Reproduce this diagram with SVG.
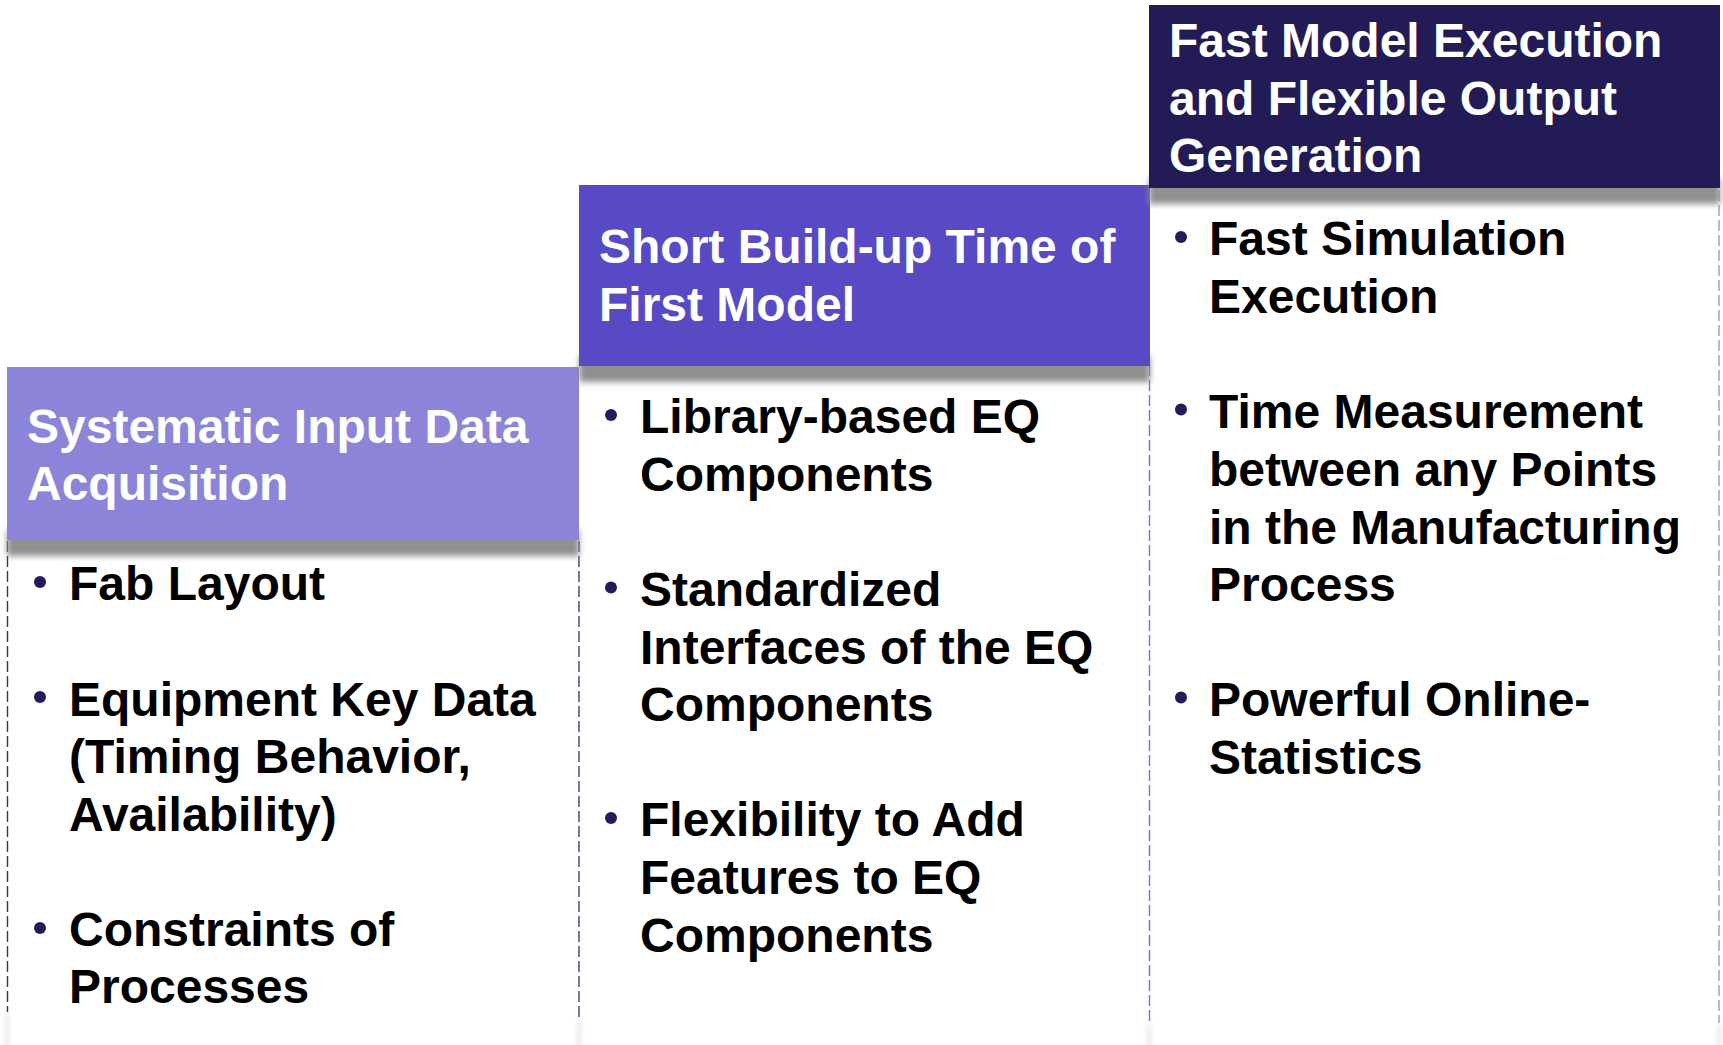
<svg xmlns="http://www.w3.org/2000/svg" width="1723" height="1045" viewBox="0 0 1723 1045">
<defs>
<style>
.t{font-family:"Liberation Sans",Arial,Helvetica,sans-serif;font-weight:bold;font-size:48px}
.h{fill:#ffffff}
.b{fill:#000000}
.dot{fill:#231c5c}
.shadow{fill:#8f8f8f;filter:url(#blur)}
.dash{fill:none;stroke-width:1.4;stroke-dasharray:11 4}
</style>
<filter id="blur" x="-5%" y="-50%" width="110%" height="200%"><feGaussianBlur stdDeviation="3"/></filter>
<filter id="blur2" x="-20%" y="-20%" width="140%" height="140%"><feGaussianBlur stdDeviation="2.5"/></filter>
</defs>
<rect width="1723" height="1045" fill="#ffffff"/>

<!-- faint panel shadows at bottom -->
<g fill="#e6e6e6" filter="url(#blur2)">
<rect x="5" y="1015" width="4" height="35"/>
<rect x="577" y="1022" width="4" height="30"/>
<rect x="1147" y="1025" width="4" height="30"/>
<rect x="1717" y="1025" width="4" height="30"/>
</g>

<g id="connectors"></g>

<!-- Column 1 -->
<g id="col1-body">
<line class="dash" x1="7.5" y1="541" x2="7.5" y2="1012" stroke="#35306f"/>
<line class="dash" x1="579" y1="541" x2="579" y2="1020" stroke="#3f3a7d"/>
<circle class="dot" cx="40" cy="582" r="6"/>
<text class="t b" x="69" y="600">Fab Layout</text>
<circle class="dot" cx="40" cy="697" r="6"/>
<text class="t b" x="69" y="715.5">Equipment Key Data</text>
<text class="t b" x="69" y="773">(Timing Behavior,</text>
<text class="t b" x="69" y="830.5">Availability)</text>
<circle class="dot" cx="40" cy="928" r="6"/>
<text class="t b" x="69" y="946">Constraints of</text>
<text class="t b" x="69" y="1003">Processes</text>
</g>

<!-- Column 2 -->
<g id="col2-body">
<line class="dash" x1="1149.5" y1="365" x2="1149.5" y2="1023" stroke="#7a6fd4"/>
<circle class="dot" cx="611" cy="415" r="6"/>
<text class="t b" x="640" y="433">Library-based EQ</text>
<text class="t b" x="640" y="491">Components</text>
<circle class="dot" cx="611" cy="587.5" r="6"/>
<text class="t b" x="640" y="605.5">Standardized</text>
<text class="t b" x="640" y="663.5">Interfaces of the EQ</text>
<text class="t b" x="640" y="721">Components</text>
<circle class="dot" cx="611" cy="818" r="6"/>
<text class="t b" x="640" y="836">Flexibility to Add</text>
<text class="t b" x="640" y="893.5">Features to EQ</text>
<text class="t b" x="640" y="951.5">Components</text>
</g>

<!-- Column 3 -->
<g id="col3-body">
<line class="dash" x1="1719" y1="190" x2="1719" y2="1023" stroke="#9c93e4"/>
<circle class="dot" cx="1181" cy="237" r="6"/>
<text class="t b" x="1209" y="255">Fast Simulation</text>
<text class="t b" x="1209" y="313">Execution</text>
<circle class="dot" cx="1181" cy="409.5" r="6"/>
<text class="t b" x="1209" y="427.5">Time Measurement</text>
<text class="t b" x="1209" y="485.5">between any Points</text>
<text class="t b" x="1209" y="543.5">in the Manufacturing</text>
<text class="t b" x="1209" y="601">Process</text>
<circle class="dot" cx="1181" cy="697.5" r="6"/>
<text class="t b" x="1209" y="715.5">Powerful Online-</text>
<text class="t b" x="1209" y="773.5">Statistics</text>
</g>

<!-- Header 1 -->
<g id="header1">
<rect class="shadow" x="7" y="530" width="572" height="26"/>
<rect x="7" y="367" width="572" height="173" fill="#8c84d8"/>
<text class="t h" x="27" y="443">Systematic Input Data</text>
<text class="t h" x="27" y="499.5">Acquisition</text>
</g>

<!-- Header 2 -->
<g id="header2">
<rect class="shadow" x="579" y="356" width="571" height="26"/>
<rect x="579" y="185" width="571" height="181" fill="#5849c4"/>
<text class="t h" x="599" y="263">Short Build-up Time of</text>
<text class="t h" x="599" y="321">First Model</text>
</g>

<!-- Header 3 -->
<g id="header3">
<rect class="shadow" x="1149" y="178" width="571" height="26"/>
<rect x="1149" y="5" width="571" height="183" fill="#221b55"/>
<text class="t h" x="1169" y="57">Fast Model Execution</text>
<text class="t h" x="1169" y="115">and Flexible Output</text>
<text class="t h" x="1169" y="172">Generation</text>
</g>
</svg>
